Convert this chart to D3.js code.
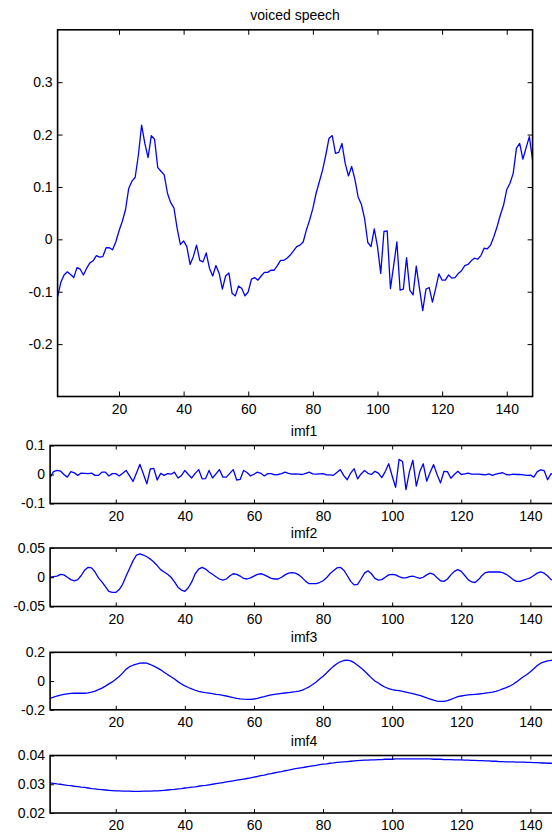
<!DOCTYPE html>
<html>
<head>
<meta charset="utf-8">
<script src="https://cdn.jsdelivr.net/npm/d3@7"></script>
<style>
  body { margin: 0; background: #fff; }
  svg { display: block; font-family: "Liberation Sans", Arial, sans-serif; }
</style>
</head>
<body>
<div id="chart"></div>
<script>
// signal and its intrinsic mode functions, one value per sample (148 samples)
const speech = [
  -0.110, -0.082, -0.068, -0.062, -0.067, -0.073, -0.054, -0.057, -0.068, -0.055,
  -0.045, -0.041, -0.031, -0.034, -0.033, -0.016, -0.016, -0.020, -0.005, 0.016,
  0.034, 0.056, 0.097, 0.111, 0.118, 0.161, 0.218, 0.183, 0.156, 0.198,
  0.191, 0.137, 0.130, 0.123, 0.088, 0.070, 0.060, 0.021, -0.010, -0.003,
  -0.014, -0.048, -0.033, -0.011, -0.040, -0.043, -0.026, -0.055, -0.070, -0.050,
  -0.065, -0.095, -0.070, -0.064, -0.103, -0.108, -0.089, -0.094, -0.108, -0.100,
  -0.076, -0.073, -0.078, -0.070, -0.063, -0.063, -0.059, -0.059, -0.050, -0.040,
  -0.040, -0.036, -0.030, -0.022, -0.014, -0.011, -0.005, 0.018, 0.037, 0.059,
  0.088, 0.110, 0.132, 0.161, 0.193, 0.198, 0.164, 0.166, 0.183, 0.145,
  0.121, 0.139, 0.115, 0.081, 0.067, 0.040, -0.006, -0.014, 0.020, -0.014,
  -0.065, 0.015, 0.016, -0.094, -0.050, -0.005, -0.097, -0.095, -0.035, -0.097,
  -0.106, -0.051, -0.094, -0.136, -0.095, -0.092, -0.120, -0.094, -0.066, -0.078,
  -0.078, -0.068, -0.074, -0.073, -0.065, -0.060, -0.050, -0.048, -0.041, -0.036,
  -0.038, -0.031, -0.017, -0.018, -0.011, 0.005, 0.024, 0.046, 0.065, 0.095,
  0.107, 0.126, 0.174, 0.183, 0.153, 0.175, 0.196, 0.151
];

const imf1 = [
  -0.010, 0.010, 0.014, 0.012, 0.000, -0.009, 0.010, 0.006, -0.003, 0.005,
  0.004, 0.003, 0.005, -0.003, -0.003, 0.008, 0.008, -0.005, 0.003, 0.003,
  -0.005, 0.004, 0.014, -0.005, -0.024, 0.005, 0.035, 0.002, -0.032, 0.019,
  0.021, -0.019, 0.004, -0.003, 0.003, 0.001, 0.008, -0.012, -0.004, 0.014,
  0.000, -0.012, 0.004, 0.017, -0.015, -0.014, 0.014, -0.012, 0.002, 0.017,
  -0.009, -0.009, 0.004, 0.017, -0.019, -0.017, 0.014, 0.007, -0.005, 0.001,
  0.008, 0.004, -0.005, 0.003, 0.003, -0.001, 0.000, 0.003, 0.008, 0.004,
  0.001, 0.002, 0.001, 0.000, 0.004, 0.008, 0.002, 0.001, 0.002, 0.003,
  -0.001, -0.001, -0.003, 0.007, 0.017, -0.004, -0.018, 0.005, 0.020, -0.015,
  0.002, 0.014, 0.004, 0.000, 0.011, 0.005, -0.011, 0.010, 0.037, -0.005,
  -0.044, 0.052, 0.045, -0.052, 0.010, 0.049, -0.040, 0.010, 0.037, -0.023,
  0.008, 0.034, 0.000, -0.029, 0.011, 0.010, -0.013, 0.000, 0.011, 0.000,
  0.002, 0.005, 0.001, 0.001, 0.001, 0.000, -0.001, 0.002, -0.003, 0.001,
  0.004, 0.006, 0.000, -0.001, 0.001, 0.000, 0.000, -0.001, -0.003, -0.002,
  -0.009, 0.010, 0.016, 0.013, -0.018, 0.003, 0.000, 0.000
];

const imf2 = [
  0.000, 0.001, 0.002, 0.005, 0.004, 0.000, -0.004, -0.006, -0.004, 0.003,
  0.012, 0.017, 0.016, 0.009, -0.001, -0.008, -0.016, -0.024, -0.026, -0.026,
  -0.021, -0.012, 0.002, 0.015, 0.028, 0.038, 0.040, 0.038, 0.035, 0.031,
  0.026, 0.020, 0.013, 0.009, 0.005, 0.000, -0.008, -0.017, -0.022, -0.024,
  -0.018, -0.008, 0.006, 0.014, 0.017, 0.014, 0.009, 0.005, 0.001, -0.003,
  -0.005, -0.003, 0.002, 0.006, 0.005, 0.002, -0.002, -0.003, -0.001, 0.002,
  0.005, 0.006, 0.004, 0.001, -0.002, -0.003, -0.003, 0.000, 0.004, 0.007,
  0.008, 0.007, 0.004, -0.001, -0.007, -0.011, -0.011, -0.011, -0.009, -0.006,
  -0.001, 0.006, 0.011, 0.016, 0.017, 0.012, 0.003, -0.007, -0.013, -0.012,
  -0.003, 0.007, 0.011, 0.006, -0.002, -0.005, -0.004, 0.000, 0.004, 0.005,
  0.004, 0.001, -0.001, -0.001, 0.001, 0.002, 0.000, -0.002, 0.000, 0.004,
  0.007, 0.005, -0.001, -0.006, -0.007, -0.003, 0.004, 0.010, 0.013, 0.010,
  0.003, -0.004, -0.008, -0.009, -0.004, 0.003, 0.008, 0.009, 0.009, 0.009,
  0.009, 0.008, 0.005, 0.001, -0.004, -0.007, -0.007, -0.005, -0.003, -0.001,
  0.003, 0.007, 0.009, 0.007, 0.002, -0.004, -0.006, -0.006
];

const imf3 = [
  -0.120, -0.112, -0.104, -0.098, -0.093, -0.089, -0.086, -0.085, -0.085, -0.085,
  -0.085, -0.082, -0.077, -0.070, -0.060, -0.049, -0.035, -0.020, -0.006, 0.012,
  0.032, 0.055, 0.083, 0.100, 0.110, 0.118, 0.124, 0.126, 0.124, 0.115,
  0.104, 0.092, 0.078, 0.061, 0.045, 0.030, 0.014, -0.004, -0.020, -0.034,
  -0.045, -0.055, -0.064, -0.071, -0.077, -0.081, -0.084, -0.088, -0.092, -0.095,
  -0.099, -0.104, -0.110, -0.116, -0.121, -0.124, -0.126, -0.127, -0.127, -0.125,
  -0.120, -0.114, -0.108, -0.101, -0.096, -0.092, -0.089, -0.086, -0.083, -0.080,
  -0.077, -0.074, -0.070, -0.063, -0.052, -0.040, -0.024, -0.006, 0.014, 0.034,
  0.056, 0.080, 0.102, 0.120, 0.134, 0.143, 0.145, 0.140, 0.128, 0.110,
  0.090, 0.070, 0.046, 0.022, 0.000, -0.014, -0.030, -0.043, -0.053, -0.060,
  -0.064, -0.067, -0.072, -0.077, -0.083, -0.088, -0.094, -0.100, -0.108, -0.117,
  -0.125, -0.133, -0.139, -0.142, -0.141, -0.136, -0.128, -0.118, -0.109, -0.104,
  -0.099, -0.096, -0.094, -0.092, -0.090, -0.087, -0.084, -0.081, -0.077, -0.071,
  -0.064, -0.055, -0.046, -0.036, -0.022, -0.006, 0.012, 0.030, 0.046, 0.064,
  0.085, 0.108, 0.124, 0.134, 0.141, 0.144, 0.146, 0.147
];

const imf4 = [
  0.0305, 0.0303, 0.0301, 0.0300, 0.0298, 0.0296, 0.0295, 0.0293, 0.0292, 0.0290,
  0.0289, 0.0287, 0.0285, 0.0284, 0.0282, 0.0281, 0.0280, 0.0279, 0.0278, 0.0277,
  0.0277, 0.0276, 0.0276, 0.0276, 0.0275, 0.0275, 0.0275, 0.0276, 0.0276, 0.0276,
  0.0277, 0.0277, 0.0278, 0.0279, 0.0280, 0.0281, 0.0282, 0.0284, 0.0285, 0.0287,
  0.0288, 0.0290, 0.0291, 0.0293, 0.0295, 0.0296, 0.0298, 0.0300, 0.0302, 0.0304,
  0.0306, 0.0308, 0.0310, 0.0312, 0.0314, 0.0316, 0.0318, 0.0320, 0.0322, 0.0325,
  0.0327, 0.0330, 0.0332, 0.0335, 0.0337, 0.0340, 0.0342, 0.0344, 0.0347, 0.0349,
  0.0352, 0.0354, 0.0356, 0.0358, 0.0360, 0.0362, 0.0364, 0.0366, 0.0368, 0.0370,
  0.0371, 0.0373, 0.0374, 0.0376, 0.0377, 0.0378, 0.0379, 0.0380, 0.0381, 0.0382,
  0.0383, 0.0384, 0.0384, 0.0385, 0.0385, 0.0386, 0.0386, 0.0387, 0.0387, 0.0387,
  0.0388, 0.0388, 0.0388, 0.0388, 0.0388, 0.0388, 0.0388, 0.0388, 0.0388, 0.0388,
  0.0388, 0.0387, 0.0387, 0.0387, 0.0386, 0.0386, 0.0386, 0.0385, 0.0385, 0.0385,
  0.0384, 0.0384, 0.0383, 0.0383, 0.0382, 0.0382, 0.0381, 0.0381, 0.0380, 0.0380,
  0.0379, 0.0379, 0.0378, 0.0378, 0.0378, 0.0377, 0.0377, 0.0377, 0.0376, 0.0376,
  0.0375, 0.0375, 0.0374, 0.0374, 0.0373, 0.0373, 0.0372, 0.0372
];

const xTicks = [20, 40, 60, 80, 100, 120, 140];
const speechTicks = [-0.2, -0.1, 0, 0.1, 0.2, 0.3];
const imf1Ticks = [-0.1, 0, 0.1];
const imf2Ticks = [-0.05, 0, 0.05];
const imf3Ticks = [-0.2, 0, 0.2];
const imf4Ticks = [0.02, 0.03, 0.04];

const width = 552, height = 832;

const plain = d => d === 0 ? '0' : String(d);

const panels = [
  { title: 'voiced speech', data: speech, left: 57.6, right: 532.6, top: 29.8, bottom: 396.5,
    yDomain: [-0.3, 0.4], yTicks: speechTicks, fmt: plain, tick: 5 },
  { title: 'imf1', data: imf1, left: 50.1, right: 558, top: 445.5, bottom: 503.5,
    yDomain: [-0.1, 0.1], yTicks: imf1Ticks, fmt: plain, tick: 4 },
  { title: 'imf2', data: imf2, left: 50.1, right: 558, top: 548, bottom: 606.5,
    yDomain: [-0.05, 0.05], yTicks: imf2Ticks, fmt: plain, tick: 4 },
  { title: 'imf3', data: imf3, left: 50.1, right: 558, top: 652.3, bottom: 709.8,
    yDomain: [-0.2, 0.2], yTicks: imf3Ticks, fmt: plain, tick: 4 },
  { title: 'imf4', data: imf4, left: 50.1, right: 558, top: 755.5, bottom: 813,
    yDomain: [0.02, 0.04], yTicks: imf4Ticks, fmt: d3.format('.2f'), tick: 4 }
];

const svg = d3.select('#chart')
  .append('svg')
  .attr('width', width)
  .attr('height', height);

panels.forEach((p, k) => {
  const x = d3.scaleLinear().domain([1, p.data.length]).range([p.left, p.right]);
  const y = d3.scaleLinear().domain(p.yDomain).range([p.bottom, p.top]);
  const g = svg.append('g');

  g.append('clipPath').attr('id', 'clip' + k)
    .append('rect')
    .attr('x', p.left).attr('y', p.top)
    .attr('width', p.right - p.left).attr('height', p.bottom - p.top);

  const line = d3.line()
    .x((d, i) => x(i + 1))
    .y(d => y(d));

  g.append('path')
    .datum(p.data)
    .attr('clip-path', 'url(#clip' + k + ')')
    .attr('fill', 'none')
    .attr('stroke', '#0000ff')
    .attr('stroke-width', 1.3)
    .attr('stroke-linejoin', 'round')
    .attr('d', line);

  const style = a => {
    a.select('.domain').remove();
    a.selectAll('line').attr('stroke', '#000').attr('stroke-width', 1);
    a.selectAll('text').attr('fill', '#000').attr('font-size', 14);
  };

  g.append('g')
    .attr('transform', `translate(0,${p.bottom})`)
    .call(d3.axisBottom(x).tickValues(xTicks).tickSizeInner(-p.tick).tickSizeOuter(0).tickPadding(7.5))
    .call(style);
  g.append('g')
    .attr('transform', `translate(0,${p.top})`)
    .call(d3.axisTop(x).tickValues(xTicks).tickSizeInner(-p.tick).tickSizeOuter(0).tickFormat(''))
    .call(style);
  g.append('g')
    .attr('transform', `translate(${p.left},0)`)
    .call(d3.axisLeft(y).tickValues(p.yTicks).tickSizeInner(-p.tick).tickSizeOuter(0).tickPadding(5).tickFormat(p.fmt))
    .call(style);
  g.append('g')
    .attr('transform', `translate(${p.right},0)`)
    .call(d3.axisRight(y).tickValues(p.yTicks).tickSizeInner(-p.tick).tickSizeOuter(0).tickFormat(''))
    .call(style);

  g.append('rect')
    .attr('x', p.left).attr('y', p.top)
    .attr('width', p.right - p.left).attr('height', p.bottom - p.top)
    .attr('fill', 'none')
    .attr('stroke', '#000')
    .attr('stroke-width', 1.6);

  g.append('text')
    .attr('x', (p.left + p.right) / 2)
    .attr('y', p.top - 10)
    .attr('text-anchor', 'middle')
    .attr('font-size', 14)
    .text(p.title);
});
</script>
</body>
</html>
